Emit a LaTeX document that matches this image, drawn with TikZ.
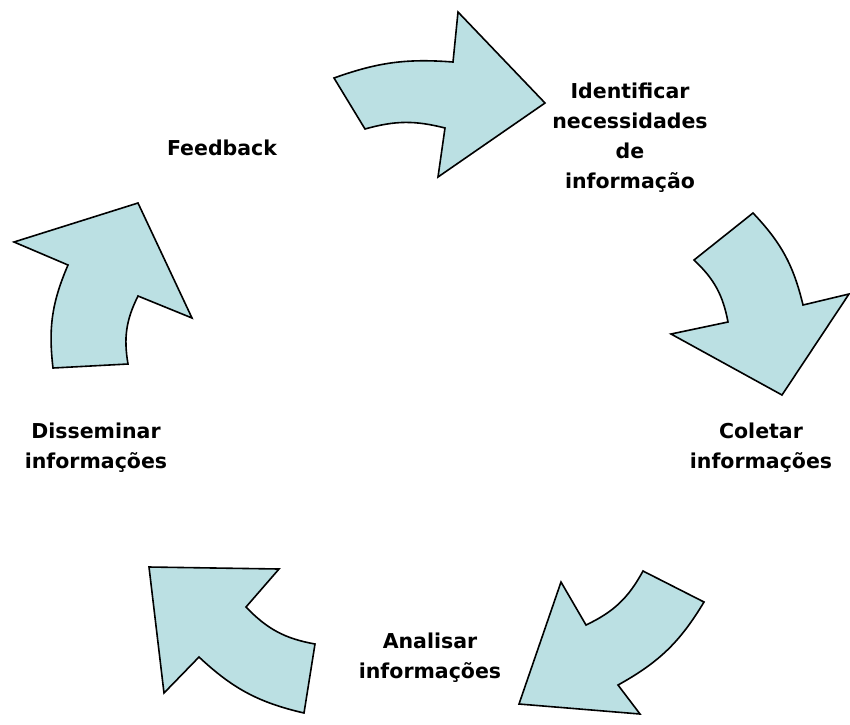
\documentclass[tikz,border=0pt]{standalone}
\usepackage{fontspec}
\setmainfont{DejaVu Sans}
\begin{document}
\begin{tikzpicture}[x=1pt,y=-1pt,
  cyclearrow/.style={draw=black,line width=1.6pt,line join=miter,fill=arrowfill},
  label/.style={font=\bfseries\fontsize{20.5}{30}\selectfont,align=center,inner sep=0pt}]
\definecolor{arrowfill}{RGB}{187,224,227}
\useasboundingbox (0,0) rectangle (850,724);

% five curved arrows running clockwise around the cycle
\draw[cyclearrow] (334,78) to[bend left=12] (453,62) -- (458,12) -- (545,103)
  -- (438,177) -- (445,128) to[bend right=15] (365,129) -- cycle;
\draw[cyclearrow] (694,260) -- (753,213) to[bend left=15] (803,305) -- (849,294)
  -- (782,395) -- (671,334) -- (728,322) to[bend right=18] (694,260) -- cycle;
\draw[cyclearrow] (643,571) -- (704,602) to[bend left=15] (618,685) -- (640,714)
  -- (519,704) -- (561,582) -- (586,625) to[bend right=18] (643,571) -- cycle;
\draw[cyclearrow] (149,567) -- (279,569) -- (246,607) to[bend right=18] (315,644)
  -- (304,713) to[bend left=15] (199,657) -- (164,693) -- cycle;
\draw[cyclearrow] (53,368) -- (128,364) to[bend left=18] (138,296) -- (192,318)
  -- (138,203) -- (14,242) -- (68,265) to[bend right=15] (53,368) -- cycle;

% step labels
\node[label] (ident) at (630,138) {Identificar\\necessidades\\de\\informação};
\node[label] (colet) at (761,448) {Coletar\\informações};
\node[label] (anal) at (430,658) {Analisar\\informações};
\node[label] (disse) at (96,448) {Disseminar\\informações};
\node[label] (feed) at (222,148) {Feedback};
\end{tikzpicture}
\end{document}
